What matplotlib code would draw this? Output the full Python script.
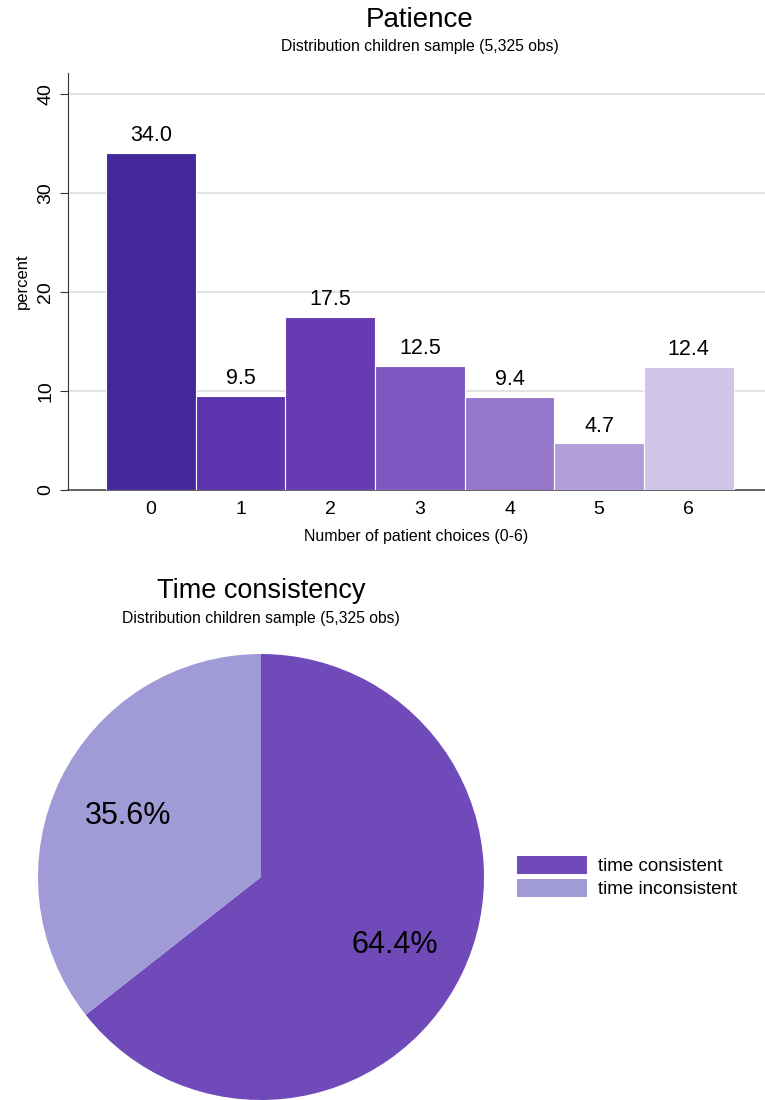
import matplotlib
matplotlib.use("Agg")
import matplotlib.pyplot as plt
from matplotlib.patches import Patch

plt.rcParams['font.family'] = ['Liberation Sans', 'DejaVu Sans']

# Patience distribution
choices = [0, 1, 2, 3, 4, 5, 6]
percent = [34.0, 9.5, 17.5, 12.5, 9.4, 4.7, 12.4]
bar_colors = ['#45289c', '#5c35ae', '#683bb5', '#7e58c0', '#9677cc', '#b19dda', '#d0c4e8']

# Time consistency shares
tc_labels = ['time consistent', 'time inconsistent']
tc_shares = [64.4, 35.6]
tc_colors = ['#6f4ab8', '#a09ad6']

subtitle = 'Distribution children sample (5,325 obs)'

fig = plt.figure(figsize=(7.65, 11), dpi=100)

# --- Bar chart ---
ax = fig.add_axes([68/765, 1 - 490/1100, 1 - 68/765, (490 - 73)/1100])
ax.bar(choices, percent, width=1.0, color=bar_colors, edgecolor='white', linewidth=0.8, zorder=3)
for x, v in zip(choices, percent):
    ax.text(x, v + 0.7, f'{v:.1f}', ha='center', va='bottom', fontsize=15.5, zorder=4)
ax.set_xlim(-0.925, 6.85)
ax.set_ylim(0, 42.1)
ax.set_yticks([0, 10, 20, 30, 40])
ax.set_xticks(choices)
ax.yaxis.grid(True, color='#e0e0e0', linewidth=1.3, zorder=0)
ax.set_axisbelow(True)
for s in ['top', 'right']:
    ax.spines[s].set_visible(False)
ax.spines['left'].set_color('#333333')
ax.spines['bottom'].set_color('#555555')
ax.spines['bottom'].set_linewidth(1.3)
ax.tick_params(axis='x', length=0, pad=8, labelsize=14)
ax.tick_params(axis='y', length=6, direction='out', labelsize=14, pad=4, color='#333333')
for lbl in ax.get_yticklabels():
    lbl.set_rotation(90)
    lbl.set_va('center')
ax.set_ylabel('percent', fontsize=12, labelpad=5)
ax.set_xlabel('Number of patient choices (0-6)', fontsize=11.5, labelpad=8)

fig.text(420/765, 1 - 20/1100, 'Patience', ha='center', va='center', fontsize=20)
fig.text(420/765, 1 - 47/1100, subtitle, ha='center', va='center', fontsize=11.3)

# --- Pie chart ---
pax = fig.add_axes([38/765, 0, 446/765, 446/1100])
wedges, _, autotexts = pax.pie(tc_shares, colors=tc_colors, startangle=90, counterclock=False,
                               autopct='%1.1f%%', pctdistance=0.665, radius=1.0,
                               textprops={'fontsize': 22})
for t in autotexts:
    px, py = t.get_position()
    t.set_position((px, py - 0.015))
pax.set_xlim(-1, 1)
pax.set_ylim(-1, 1)
pax.set_aspect('equal')

fig.text(261/765, 1 - 591/1100, 'Time consistency', ha='center', va='center', fontsize=19.5)
fig.text(261/765, 1 - 618/1100, subtitle, ha='center', va='center', fontsize=11.3)

handles = [Patch(facecolor=c, edgecolor='none') for c in tc_colors]
fig.legend(handles, tc_labels, loc='center left', bbox_to_anchor=(500/765, 1 - 877/1100),
           frameon=False, fontsize=13.5, handlelength=3.75, handleheight=1.1,
           handletextpad=0.6, labelspacing=0.2)

fig.savefig('out.png', dpi=100)
